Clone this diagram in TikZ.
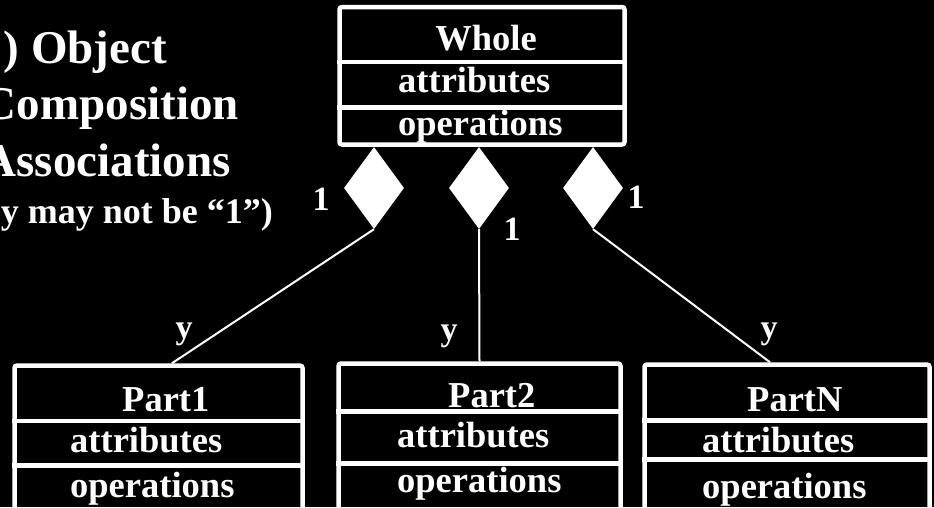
\documentclass[tikz,border=0pt]{standalone}
\usepackage{fontspec}
\setmainfont{Liberation Serif}
\usetikzlibrary{shapes.geometric}
\begin{document}
\begin{tikzpicture}[x=1pt,y=-1pt,
  classbox/.style={draw=white, line width=4.5pt, rounded corners=2.5pt, inner sep=0pt},
  sep/.style={draw=white, line width=4.5pt},
  diam/.style={diamond, fill=white, draw=none, inner sep=0pt, minimum width=60pt, minimum height=82pt},
  conn/.style={draw=white, line width=2pt},
  lbl/.style={text=white, font=\bfseries\fontsize{34}{36}\selectfont, inner sep=0pt, anchor=base},
  boxtxt/.style={text=white, font=\bfseries\fontsize{36.5}{40}\selectfont, inner sep=0pt, anchor=base west},
  title/.style={text=white, font=\bfseries\fontsize{47}{50}\selectfont, inner sep=0pt, anchor=base east},
  subtitle/.style={text=white, font=\bfseries\fontsize{36}{38}\selectfont, inner sep=0pt, anchor=base east}
]
% canvas
\fill[black] (0,0) rectangle (934,507);
\useasboundingbox (0,0) rectangle (934,507);
\clip (0,0) rectangle (934,507);

% heading on the left
\node[title] (t1) at (167,63) {) Object};
\node[title] (t2) at (239,119) {Composition};
\node[title] (t3) at (231,176) {Associations};
\node[subtitle] (t4) at (273,223) {y may not be “1”)};

% compartment texts
\node[boxtxt, anchor=base] (wname) at (486,50) {Whole};
\node[boxtxt] (wattr) at (398,92) {attributes};
\node[boxtxt] (wops) at (398,135) {operations};

\node[boxtxt] (p1name) at (122,411) {Part1};
\node[boxtxt] (p1attr) at (70,452) {attributes};
\node[boxtxt] (p1ops) at (70,497) {operations};

\node[boxtxt] (p2name) at (448,407) {Part2};
\node[boxtxt] (p2attr) at (397,447) {attributes};
\node[boxtxt] (p2ops) at (397,492) {operations};

\node[boxtxt] (pNname) at (747,411) {PartN};
\node[boxtxt] (pNattr) at (702,452) {attributes};
\node[boxtxt] (pNops) at (702,498) {operations};

% class boxes
\node[classbox, minimum width=285pt, minimum height=137.5pt] (whole) at (482,75.75) {};
\draw[sep] (whole.west |- 0,62) -- (whole.east |- 0,62);
\draw[sep] (whole.west |- 0,107.5) -- (whole.east |- 0,107.5);

\node[classbox, minimum width=288pt, minimum height=164.5pt] (part1) at (158.5,447.75) {};
\draw[sep] (part1.west |- 0,421) -- (part1.east |- 0,421);
\draw[sep] (part1.west |- 0,465.5) -- (part1.east |- 0,465.5);

\node[classbox, minimum width=282pt, minimum height=166.5pt] (part2) at (479.5,446.75) {};
\draw[sep] (part2.west |- 0,411.5) -- (part2.east |- 0,411.5);
\draw[sep] (part2.west |- 0,463.5) -- (part2.east |- 0,463.5);

\node[classbox, minimum width=285pt, minimum height=165.5pt] (partN) at (787,447.25) {};
\draw[sep] (partN.west |- 0,420.5) -- (partN.east |- 0,420.5);
\draw[sep] (partN.west |- 0,459.5) -- (partN.east |- 0,459.5);

% composition diamonds
\node[diam] (d1) at (374,188) {};
\node[diam] (d2) at (479,188) {};
\node[diam] (d3) at (593,188) {};

% connectors
\draw[conn] (d1.south) -- ([xshift=13.5pt]part1.north);
\draw[conn] (d2.south) -- (part2.north);
\draw[conn] (d3.south) -- ([xshift=-17pt]partN.north);

% multiplicities
\node[lbl] (m1) at (321,210) {1};
\node[lbl] (m2) at (512,240) {1};
\node[lbl] (m3) at (636,208) {1};
\node[lbl] (y1) at (184,338) {y};
\node[lbl] (y2) at (449,340) {y};
\node[lbl] (y3) at (769,338) {y};
\end{tikzpicture}
\end{document}
